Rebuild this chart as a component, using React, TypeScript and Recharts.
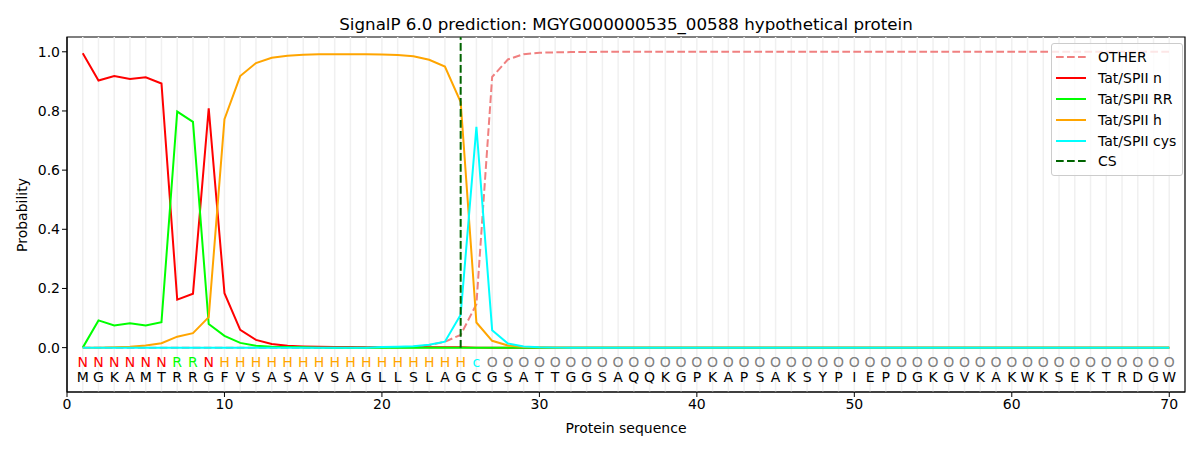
import React from 'react';
import {
  ComposedChart, Line, Scatter, XAxis, YAxis, ReferenceLine, ReferenceArea,
} from 'recharts';

// Sequence and per-residue predicted labels
const residues = 'MGKAMTRRGFVSASAVSAGLLSLAGCGSATTGGSAQQKGPKAPSAKSYPIEPDGKGVKAKWKSEKTRDGW'.split('');
const predLabels = 'NNNNNNRRNHHHHHHHHHHHHHHHHcOOOOOOOOOOOOOOOOOOOOOOOOOOOOOOOOOOOOOOOOOOOO'.split('');

const otherProb = [
  0, 0, 0, 0, 0, 0, 0, 0, 0, 0,
  0, 0, 0, 0, 0, 0, 0, 0, 0.001, 0.001,
  0.001, 0.003, 0.008, 0.02, 0.043, 0.147, 0.915, 0.974, 0.992, 0.997,
  0.998, 0.999, 0.999, 1, 1, 1, 1, 1, 1, 1,
  1, 1, 1, 1, 1, 1, 1, 1, 1, 1,
  1, 1, 1, 1, 1, 1, 1, 1, 1, 1,
  1, 1, 1, 1, 1, 1, 1, 1, 1, 1,
];
const tatN = [
  0.995, 0.903, 0.918, 0.908, 0.914, 0.893, 0.162, 0.182, 0.809, 0.184,
  0.06, 0.026, 0.012, 0.006, 0.004, 0.003, 0.002, 0.002, 0.001, 0.001,
  0.001, 0.001, 0.001, 0.001, 0.001, 0, 0, 0, 0, 0,
  0, 0, 0, 0, 0, 0, 0, 0, 0, 0,
  0, 0, 0, 0, 0, 0, 0, 0, 0, 0,
  0, 0, 0, 0, 0, 0, 0, 0, 0, 0,
  0, 0, 0, 0, 0, 0, 0, 0, 0, 0,
];
const tatRR = [
  0, 0.092, 0.075, 0.082, 0.075, 0.086, 0.798, 0.763, 0.08, 0.04,
  0.016, 0.006, 0.003, 0.002, 0.001, 0, 0, 0, 0, 0,
  0, 0, 0, 0, 0, 0, 0, 0, 0, 0,
  0, 0, 0, 0, 0, 0, 0, 0, 0, 0,
  0, 0, 0, 0, 0, 0, 0, 0, 0, 0,
  0, 0, 0, 0, 0, 0, 0, 0, 0, 0,
  0, 0, 0, 0, 0, 0, 0, 0, 0, 0,
];
const tatH = [
  0, 0, 0.001, 0.003, 0.007, 0.015, 0.037, 0.049, 0.103, 0.772,
  0.918, 0.962, 0.98, 0.987, 0.99, 0.992, 0.992, 0.992, 0.992, 0.991,
  0.989, 0.985, 0.973, 0.95, 0.83, 0.085, 0.023, 0.007, 0.002, 0.001,
  0, 0, 0, 0, 0, 0, 0, 0, 0, 0,
  0, 0, 0, 0, 0, 0, 0, 0, 0, 0,
  0, 0, 0, 0, 0, 0, 0, 0, 0, 0,
  0, 0, 0, 0, 0, 0, 0, 0, 0, 0,
];
const tatCys = [
  0, 0, 0, 0, 0, 0, 0, 0, 0, 0,
  0, 0, 0, 0, 0, 0, 0, 0, 0, 0.002,
  0.003, 0.005, 0.01, 0.02, 0.111, 0.746, 0.059, 0.014, 0.004, 0.001,
  0, 0, 0, 0, 0, 0, 0, 0, 0, 0,
  0, 0, 0, 0, 0, 0, 0, 0, 0, 0,
  0, 0, 0, 0, 0, 0, 0, 0, 0, 0,
  0, 0, 0, 0, 0, 0, 0, 0, 0, 0,
];

const cleavageSite = 25;
const xTicks = [0, 10, 20, 30, 40, 50, 60, 70];
const yTicks = [0, 0.2, 0.4, 0.6, 0.8, 1.0];

const labelColors: Record<string, string> = {
  N: '#ff0000', R: '#00ff00', H: '#ffa500', c: '#00ffff', O: '#808080',
};

const series = [
  { key: 'other', name: 'OTHER', color: '#f08080', dash: '7.7 3.3' },
  { key: 'n', name: 'Tat/SPII n', color: '#ff0000' },
  { key: 'rr', name: 'Tat/SPII RR', color: '#00ff00' },
  { key: 'h', name: 'Tat/SPII h', color: '#ffa500' },
  { key: 'cys', name: 'Tat/SPII cys', color: '#00ffff' },
];
const legendItems = [...series, { key: 'cs', name: 'CS', color: '#006400', dash: '7.7 3.3' }];

const rows = residues.map((aa, i) => ({
  pos: i + 1,
  aa,
  label: predLabels[i],
  other: otherProb[i],
  n: tatN[i],
  rr: tatRR[i],
  h: tatH[i],
  cys: tatCys[i],
}));

const FONT = '"DejaVu Sans", sans-serif';

const LabelText = (props: any) => {
  const { cx, cy, payload } = props;
  return (
    <text x={cx} y={cy} textAnchor="middle" dominantBaseline="central"
      fontSize={14} fontFamily={FONT} fill={labelColors[payload.label]}>
      {payload.label}
    </text>
  );
};

const ResidueText = (props: any) => {
  const { cx, cy, payload } = props;
  return (
    <text x={cx} y={cy} textAnchor="middle" dominantBaseline="central"
      fontSize={14} fontFamily={FONT} fill="#000">
      {payload.aa}
    </text>
  );
};

const YLabel = () => (
  <text x={22} y={215} transform="rotate(-90, 22, 215)" textAnchor="middle"
    dominantBaseline="central" fontSize={14} fontFamily={FONT} fill="#000">
    Probability
  </text>
);

export default function App() {
  return (
    <div style={{ position: 'absolute', left: 0, top: 0, width: 1200, height: 450, background: '#fff' }}>
      <div style={{
        position: 'absolute', left: 67, width: 1118, top: 14, textAlign: 'center',
        fontFamily: FONT, fontSize: 16.7, color: '#000', whiteSpace: 'nowrap',
      }}>
        SignalP 6.0 prediction: MGYG000000535_00588 hypothetical protein
      </div>
      <ComposedChart width={1200} height={450} data={rows}
        margin={{ top: 37, right: 15, bottom: 0, left: 0 }}>
        {rows.map((r) => (
          <ReferenceLine key={`g${r.pos}`} x={r.pos} stroke="#f0f0f0" strokeWidth={1.5} />
        ))}
        <XAxis dataKey="pos" type="number" domain={[0, 71]} ticks={xTicks} height={58}
          allowDataOverflow interval={0}
          tick={{ fill: '#000', fontSize: 14, fontFamily: FONT }} tickSize={5}
          stroke="#000" tickLine={{ stroke: '#000' }}
          label={{ value: 'Protein sequence', position: 'insideBottom', offset: 17, fill: '#000', fontSize: 14, fontFamily: FONT }} />
        <YAxis type="number" domain={[-0.15, 1.05]} ticks={yTicks} width={67}
          allowDataOverflow interval={0}
          tickFormatter={(v: number) => v.toFixed(1)}
          tick={{ fill: '#000', fontSize: 14, fontFamily: FONT }} tickSize={5}
          stroke="#000" tickLine={{ stroke: '#000' }} label={<YLabel />} />
        {series.map((s) => (
          <Line key={s.key} type="linear" dataKey={s.key} name={s.name} stroke={s.color}
            strokeWidth={2} strokeDasharray={s.dash} dot={false} activeDot={false}
            isAnimationActive={false} />
        ))}
        <ReferenceLine segment={[{ x: cleavageSite, y: 0 }, { x: cleavageSite, y: 1.05 }]}
          stroke="#006400" strokeWidth={2} strokeDasharray="7.7 3.3" />
        <Scatter dataKey={() => -0.048} shape={<LabelText />} isAnimationActive={false} legendType="none" />
        <Scatter dataKey={() => -0.1} shape={<ResidueText />} isAnimationActive={false} legendType="none" />
        <ReferenceArea x1={0} x2={71} y1={-0.15} y2={1.05} fill="none" stroke="#000"
          strokeWidth={1.2} fillOpacity={0} />
      </ComposedChart>
      <div style={{
        position: 'absolute', left: 1051, top: 43, border: '1px solid #cccccc', borderRadius: 3,
        background: 'rgba(255,255,255,0.8)', padding: '3px 6px 3px 4px',
        fontFamily: FONT, fontSize: 14, color: '#000', whiteSpace: 'nowrap',
      }}>
        {legendItems.map((s) => (
          <div key={s.key} style={{ display: 'flex', alignItems: 'center', height: 20.8 }}>
            <svg width={30} height={10} style={{ marginRight: 12 }}>
              <line x1={0} y1={5} x2={30} y2={5} stroke={s.color} strokeWidth={2}
                strokeDasharray={(s as any).dash} />
            </svg>
            <span>{s.name}</span>
          </div>
        ))}
      </div>
    </div>
  );
}
